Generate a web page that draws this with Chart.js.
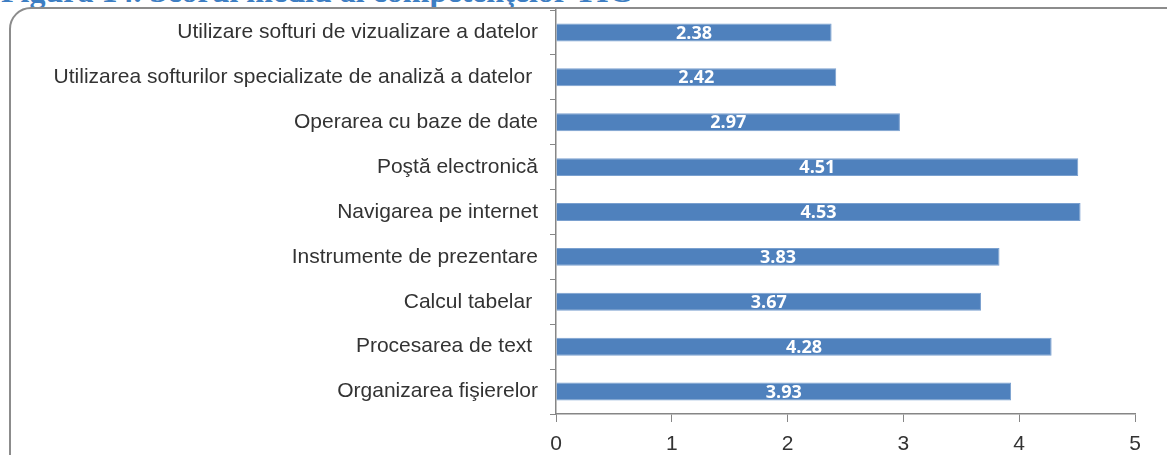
<!DOCTYPE html>
<html>
<head>
<meta charset="utf-8">
<script src="https://cdn.jsdelivr.net/npm/chart.js@4/dist/chart.umd.min.js"></script>
<style>
  html,body{margin:0;padding:0;background:#fff;}
  #wrap{position:relative;width:1167px;height:455px;overflow:hidden;}
  #titlu{position:absolute;left:1px;top:-24px;font:bold 32px/31px "Liberation Serif","DejaVu Serif",serif;color:#3d7ec3;white-space:nowrap;}
  #rama{position:absolute;left:9px;top:7px;width:1180px;height:470px;border:2px solid #8c8c8c;border-radius:22px;box-sizing:border-box;}
  #grafic{position:absolute;left:0;top:0;}
</style>
</head>
<body>
<div id="wrap">
  <div id="titlu">Figura 14. Scorul mediu al competenţelor TIC</div>
  <div id="rama"></div>
  <canvas id="grafic" width="1167" height="455"></canvas>
</div>
<script>
	var categorii = [
		'Utilizare softuri de vizualizare a datelor',
		'Utilizarea softurilor specializate de analiză a datelor ',
		'Operarea cu baze de date',
		'Poştă electronică',
		'Navigarea pe internet',
		'Instrumente de prezentare',
		'Calcul tabelar ',
		'Procesarea de text ',
		'Organizarea fişierelor'
	];
	var scoruri = [2.38, 2.42, 2.97, 4.51, 4.53, 3.83, 3.67, 4.28, 3.93];
	var axaMin = 0, axaMax = 5, pas = 1;

	// etichete albe in mijlocul barelor
	var eticheteBare = {
		id: 'eticheteBare',
		afterDatasetsDraw: function(chart){
			var ctx = chart.ctx;
			var meta = chart.getDatasetMeta(0);
			ctx.save();
			ctx.fillStyle = '#ffffff';
			ctx.font = 'bold 18px "Open Sans", sans-serif';
			ctx.textAlign = 'center';
			ctx.textBaseline = 'middle';
			meta.data.forEach(function(bar, i){
				var x = (bar.x + bar.base) / 2;
				ctx.fillText(scoruri[i].toFixed(2), x, bar.y + 1);
			});
			ctx.restore();
		}
	};

	var ctx = document.getElementById('grafic').getContext('2d');
	var myChart = new Chart(ctx, {
		type: 'bar',
		data: {
			labels: categorii,
			datasets: [{
				data: scoruri,
				backgroundColor: '#4f81bd',
				borderColor: '#7aa0cf',
				borderWidth: 1,
				categoryPercentage: 1,
				barPercentage: 0.4
			}]
		},
		options: {
			indexAxis: 'y',
			responsive: false,
			animation: false,
			layout: { padding: { top: 10, right: 32, left: 0, bottom: 0 } },
			plugins: {
				legend: { display: false },
				tooltip: { enabled: false }
			},
			scales: {
				y: {
					offset: true,
					grid: {
						offset: true,
						drawOnChartArea: false,
						color: '#868686',
						tickLength: 6,
						tickColor: '#868686'
					},
					border: { color: '#868686', width: 1.5 },
					ticks: {
						color: '#333333',
						font: { family: '"Liberation Sans", Arial, sans-serif', size: 21 },
						padding: 12
					},
					afterFit: function(scale){
						scale.width = 556;
						scale.paddingTop = 0;
						scale.paddingBottom = 0;
					}
				},
				x: {
					min: axaMin,
					max: axaMax,
					grid: {
						drawOnChartArea: false,
						color: '#868686',
						tickLength: 8,
						tickColor: '#868686'
					},
					border: { color: '#868686', width: 1.5 },
					ticks: {
						stepSize: pas,
						color: '#333333',
						font: { family: '"Liberation Sans", Arial, sans-serif', size: 21 },
						padding: 10
					},
					afterFit: function(scale){ scale.height = 41; }
				}
			}
		},
		plugins: [eticheteBare]
	});
</script>
</body>
</html>
